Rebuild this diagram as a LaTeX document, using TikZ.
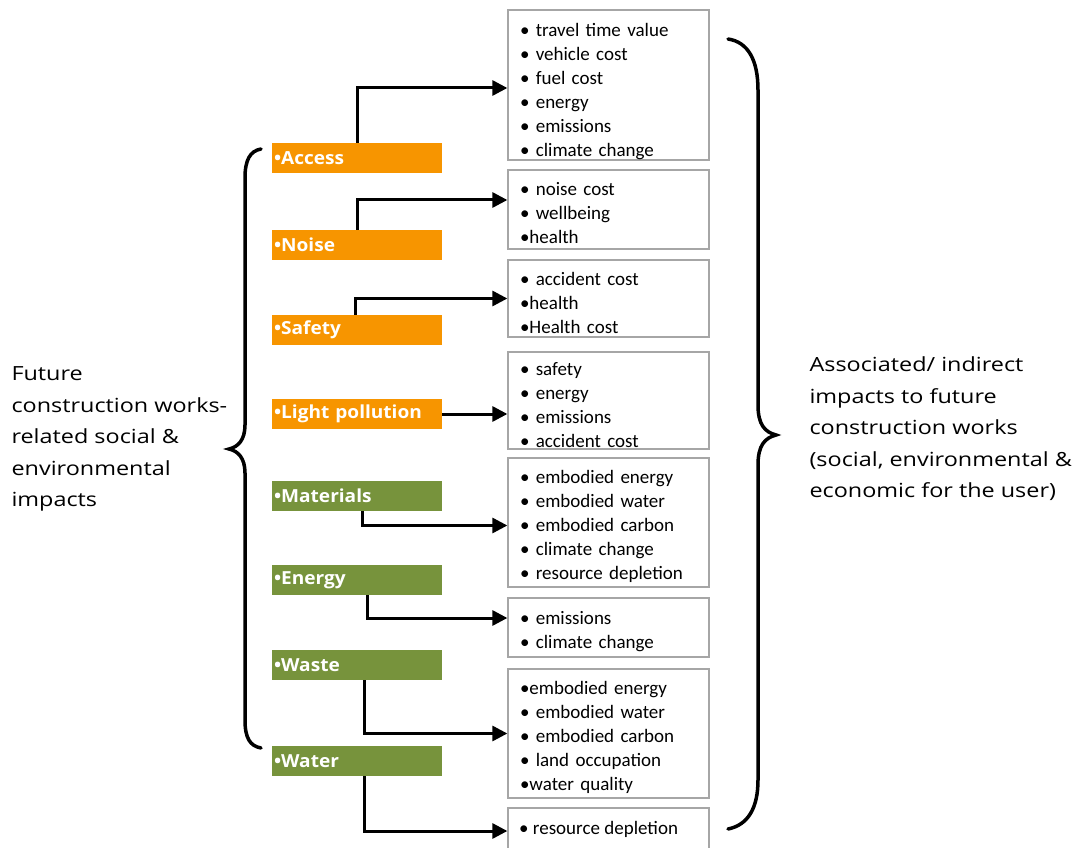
\documentclass[tikz,border=0pt]{standalone}
\usepackage{fontspec}
\setmainfont{Carlito}
\newfontfamily\sidefont[FakeStretch=1.2]{Open Sans}
\newfontfamily\barfont[FakeStretch=1.06]{Open Sans}
\usetikzlibrary{arrows.meta,calc}
\definecolor{barorange}{HTML}{F79500}
\definecolor{bargreen}{HTML}{77933C}
\definecolor{boxgray}{HTML}{A6A6A6}
\begin{document}
\begin{tikzpicture}[x=1pt,y=-1pt,
  bar/.style={minimum width=170pt,minimum height=30pt,inner sep=0pt,
    text width=166pt,align=left,text=white,
    font=\barfont\fontsize{18}{20}\selectfont\bfseries},
  orangebar/.style={bar,fill=barorange},
  greenbar/.style={bar,fill=bargreen},
  itembox/.style={draw=boxgray,line width=1.3pt,fill=white,minimum width=201pt,inner sep=0pt},
  itemtext/.style={inner sep=0pt,text width=179pt,align=left,
    font=\fontsize{19}{24}\selectfont},
  arr/.style={line width=3pt,-{Triangle[length=15pt,width=15pt]}},
  brace/.style={line width=3.5pt,line cap=round},
  side/.style={align=left,anchor=west,font=\sidefont\fontsize{19.5}{31.5}\selectfont}
]
\useasboundingbox (0,0) rectangle (1077,848);

% impact categories
\node[orangebar] (access)  at (357,158) {•Access};
\node[orangebar] (noise)   at (357,245) {•Noise};
\node[orangebar] (safety)  at (357,330) {•Safety};
\node[orangebar] (light)   at (357,414) {•Light pollution};
\node[greenbar]  (mater)   at (357,496) {•Materials};
\node[greenbar]  (energy)  at (357,580) {•Energy};
\node[greenbar]  (waste)   at (357,665) {•Waste};
\node[greenbar]  (water)   at (357,761) {•Water};

% associated impact boxes
\node[itembox,minimum height=150pt] (b1) at (608.5,85) {};
\node[itembox,minimum height=79pt]  (b2) at (608.5,209.5) {};
\node[itembox,minimum height=77pt]  (b3) at (608.5,298.5) {};
\node[itembox,minimum height=97pt]  (b4) at (608.5,400.5) {};
\node[itembox,minimum height=129pt] (b5) at (608.5,522.5) {};
\node[itembox,minimum height=59pt]  (b6) at (608.5,627.5) {};
\node[itembox,minimum height=129pt] (b7) at (608.5,733.5) {};
\node[itembox,minimum height=50pt]  (b8) at (608.5,833) {};

% their item lists
\node[itemtext] (t1) at ([xshift=1pt,yshift=-7pt]b1.center) {• travel time value\\• vehicle cost\\• fuel cost\\• energy\\• emissions\\• climate change};
\node[itemtext] (t2) at ([xshift=1pt,yshift=-4pt]b2.center) {• noise cost\\• wellbeing\\•health};
\node[itemtext] (t3) at ([xshift=1pt,yshift=-4pt]b3.center) {• accident cost\\•health\\•Health cost};
\node[itemtext] (t4) at ([xshift=1pt,yshift=-5pt]b4.center) {• safety\\• energy\\• emissions\\• accident cost};
\node[itemtext] (t5) at ([xshift=1pt,yshift=-4pt]b5.center) {• embodied energy\\• embodied water\\• embodied carbon\\• climate change\\• resource depletion};
\node[itemtext] (t6) at ([xshift=1pt,yshift=-4pt]b6.center) {• emissions\\• climate change};
\node[itemtext] (t7) at ([xshift=1pt,yshift=-4pt]b7.center) {•embodied energy\\• embodied water\\• embodied carbon\\• land occupation\\•water quality};
\node[anchor=west,inner sep=0pt,font=\fontsize{19}{24}\selectfont] (t8) at (519,829) {• resource depletion};

% connectors
\draw[arr] (access.north) |- ([yshift=-3pt]b1.west);
\draw[arr] (noise.north) |- ([yshift=9.5pt]b2.west);
\draw[arr] ([xshift=-2pt]safety.north) |- (b3.west);
\draw[arr] (light.east) -- (light.east -| b4.west);
\draw[arr] ([xshift=5pt]mater.south) |- ([yshift=-3pt]b5.west);
\draw[arr] ([xshift=10pt]energy.south) |- ([yshift=9.5pt]b6.west);
\draw[arr] ([xshift=7pt]waste.south) |- (b7.west);
\draw[arr] ([xshift=7pt]water.south) |- ([yshift=2pt]b8.west);

% braces
\draw[brace] (261,149) .. controls (250,151) and (245,160) .. (245,178)
  -- (245,425) .. controls (245,440) and (238,447) .. (229,449)
  .. controls (238,451) and (245,458) .. (245,473)
  -- (245,720) .. controls (245,738) and (250,746) .. (261,748);
\draw[brace] (728,39) .. controls (748,42) and (758,60) .. (758,90)
  -- (758,405) .. controls (758,425) and (765,432) .. (776,435)
  .. controls (765,438) and (758,445) .. (758,465)
  -- (758,780) .. controls (758,808) and (748,825) .. (728,829);

% side labels
\node[side] (lefttext) at (8,439) {Future\\construction works-\\related social \&\\environmental\\impacts};
\node[side] (righttext) at (806,429) {Associated/ indirect\\impacts to future\\construction works\\(social, environmental \&\\economic for the user)};
\end{tikzpicture}
\end{document}
